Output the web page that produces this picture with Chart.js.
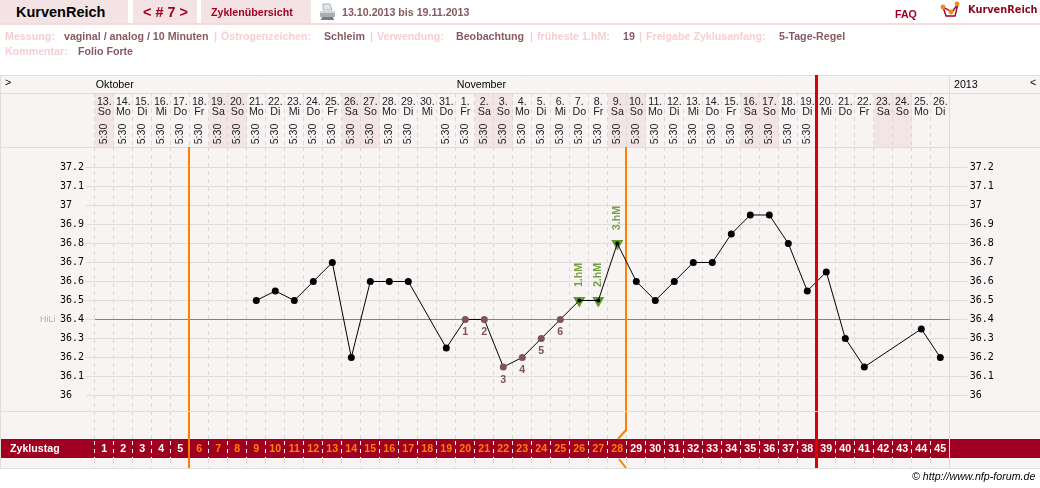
<!DOCTYPE html>
<html>
<head>
<meta charset="utf-8">
<title>KurvenReich</title>
<script src="https://cdn.jsdelivr.net/npm/chart.js@4/dist/chart.umd.min.js"></script>
<style>
body { margin: 0; background: #fff; font: bold 10.67px "Liberation Sans", Arial, sans-serif; overflow: hidden; }
#page { position: relative; width: 1040px; height: 488px; overflow: hidden; }
canvas { position: absolute; left: 0; top: 0; }
.abs { position: absolute; white-space: nowrap; line-height: 14px; }
.tab { position: absolute; top: 0; height: 23px; background: #f3e3e5; }
.lab { color: #f6cfd2; }
.val { color: #875a60; }
.red { color: #a00020; }
</style>
</head>
<body>
<div id="page">
  <canvas id="myChart" width="1040" height="488"></canvas>

  <div class="tab" style="left:0;width:128px"></div>
  <div class="tab" style="left:133px;width:64px"></div>
  <div class="tab" style="left:201px;width:110px"></div>
  <div class="abs" style="left:0;top:23px;width:1040px;height:2px;background:#f3dadd"></div>

  <div class="abs" style="left:16px;top:5px;font-size:14.5px;color:#000">KurvenReich</div>
  <div class="abs red" style="left:143px;top:5px;font-size:14.4px">&lt; # 7 &gt;</div>
  <div class="abs red" style="left:211px;top:5px">Zyklenübersicht</div>
  <svg class="abs" style="left:319px;top:3px" width="17" height="18" viewBox="0 0 17 18">
    <path d="M4 1h7l2 6H4z" fill="#dfe6ee" stroke="#9aa4ae" stroke-width="0.8"/>
    <path d="M1 8h15v6H1z" fill="#a9adb1"/>
    <path d="M3 14h11l1 3H2z" fill="#777b80"/>
    <path d="M1 8h15v2H1z" fill="#d3d6d9"/>
  </svg>
  <div class="abs val" style="left:342px;top:5px">13.10.2013 bis 19.11.2013</div>
  <div class="abs red" style="left:895px;top:7px">FAQ</div>
  <svg class="abs" style="left:940px;top:1px" width="20" height="18" viewBox="0 0 20 18">
    <path d="M3 6l3 9h9l3-12-6 8z" fill="#fff" stroke="#a00020" stroke-width="1.4"/>
    <circle cx="3" cy="6" r="2.4" fill="#f08a1c"/>
    <circle cx="11" cy="11" r="2.4" fill="#f08a1c"/>
    <circle cx="17" cy="3" r="2.4" fill="#f08a1c"/>
  </svg>
  <div class="abs" style="left:968px;top:3px;font:bold 9.8px 'DejaVu Sans';line-height:14px;color:#8b0a1a">KurvenReich</div>

  <div class="abs lab" style="left:5px;top:29px">Messung:</div>
  <div class="abs val" style="left:64px;top:29px">vaginal / analog / 10 Minuten</div>
  <div class="abs lab" style="left:214px;top:29px">|</div>
  <div class="abs lab" style="left:221px;top:29px">Östrogenzeichen:</div>
  <div class="abs val" style="left:324px;top:29px">Schleim</div>
  <div class="abs lab" style="left:370px;top:29px">|</div>
  <div class="abs lab" style="left:377px;top:29px">Verwendung:</div>
  <div class="abs val" style="left:456px;top:29px">Beobachtung</div>
  <div class="abs lab" style="left:530px;top:29px">|</div>
  <div class="abs lab" style="left:537px;top:29px">früheste 1.hM:</div>
  <div class="abs val" style="left:623px;top:29px">19</div>
  <div class="abs lab" style="left:639px;top:29px">|</div>
  <div class="abs lab" style="left:646px;top:29px">Freigabe Zyklusanfang:</div>
  <div class="abs val" style="left:779px;top:29px">5-Tage-Regel</div>
  <div class="abs lab" style="left:5px;top:44px">Kommentar:</div>
  <div class="abs val" style="left:78px;top:44px">Folio Forte</div>

  <div class="abs" style="left:912px;top:469px;font:italic 10.67px 'Liberation Sans';line-height:14px;color:#000">© http://www.nfp-forum.de</div>
</div>

<script>
const cycleDays = ["1","2","3","4","5","6","7","8","9","10","11","12","13","14","15","16","17","18","19","20","21","22","23","24","25","26","27","28","29","30","31","32","33","34","35","36","37","38","39","40","41","42","43","44","45"];
const dayNumbers = [13,14,15,16,17,18,19,20,21,22,23,24,25,26,27,28,29,30,31,1,2,3,4,5,6,7,8,9,10,11,12,13,14,15,16,17,18,19,20,21,22,23,24,25,26];
const weekdays = ["So","Mo","Di","Mi","Do","Fr","Sa","So","Mo","Di","Mi","Do","Fr","Sa","So","Mo","Di","Mi","Do","Fr","Sa","So","Mo","Di","Mi","Do","Fr","Sa","So","Mo","Di","Mi","Do","Fr","Sa","So","Mo","Di","Mi","Do","Fr","Sa","So","Mo","Di"];
const times = ["5:30","5:30","5:30","5:30","5:30","5:30","5:30","5:30","5:30","5:30","5:30","5:30","5:30","5:30","5:30","5:30","5:30","","5:30","5:30","5:30","5:30","5:30","5:30","5:30","5:30","5:30","5:30","5:30","5:30","5:30","5:30","5:30","5:30","5:30","5:30","5:30","5:30","","","","","","",""];
const temps = [null,null,null,null,null,null,null,null,36.5,36.55,36.5,36.6,36.7,36.2,36.6,36.6,36.6,null,36.25,36.4,36.4,36.15,36.2,36.3,36.4,36.5,36.5,36.8,36.6,36.5,36.6,36.7,36.7,36.85,36.95,36.95,36.8,36.55,36.65,36.3,36.15,null,null,36.35,36.2];
const highTemps = [null,null,null,null,null,null,null,null,null,null,null,null,null,null,null,null,null,null,null,null,null,null,null,null,null,36.5,36.5,36.8,null,null,null,null,null,null,null,null,null,null,null,null,null,null,null,null,null];

const yTicks = [36,36.1,36.2,36.3,36.4,36.5,36.6,36.7,36.8,36.9,37,37.1,37.2];
const hiLi = 36.4;

// index of the day in the arrays above
const lowDays = [19,20,21,22,23,24];
const lowLabels = ["1","2","3","4","5","6"];
const highDays = [25,26,27];
const highLabels = ["1.hM","2.hM","3.hM"];

const monthNames = ["Oktober","November"];
const monthStarts = [0,19];
const fertileStart = 5;
const fertileEnd = 28;
const cycleEnd = 38;

const lineGray = "#e0dddb";
const dashGray = "#dad7d5";
const bgPink = "#f9f4f4";
const weekendPink = "#f3e4e6";
const bandRed = "#a00020";
const orange = "#ff8000";
const green = "#5f9a2a";
const brown = "#7f5357";
const sans = '"Liberation Sans", Arial, sans-serif';

function colLeft(chart, i) {
    const x = chart.scales.x;
    return x.left + i * (x.width / cycleDays.length);
}

function vLine(ctx, color, width, points) {
    ctx.strokeStyle = color;
    ctx.lineWidth = width;
    ctx.beginPath();
    ctx.moveTo(points[0][0], points[0][1]);
    for (let i = 1; i < points.length; i++) {
        ctx.lineTo(points[i][0], points[i][1]);
    }
    ctx.stroke();
}

// frame, header rows and the weekend shading
const framePlugin = {
    id: "frame",
    beforeDraw(chart) {
        const ctx = chart.ctx;
        const colW = chart.scales.x.width / cycleDays.length;
        ctx.save();
        ctx.fillStyle = bgPink;
        ctx.fillRect(1, 75, 1039, 393);
        ctx.fillStyle = weekendPink;
        weekdays.forEach(function (d, i) {
            if (d == "Sa" || d == "So") {
                ctx.fillRect(Math.round(colLeft(chart, i)), 94, colW, 53);
            }
        });
        [75.5, 93.5, 147.5, 411.5, 468.5].forEach(function (y) {
            vLine(ctx, lineGray, 1, [[1, y], [1040, y]]);
        });
        vLine(ctx, lineGray, 1, [[0.5, 75], [0.5, 469]]);
        vLine(ctx, lineGray, 1, [[949.5, 75], [949.5, 469]]);
        ctx.restore();
    },
    beforeDatasetsDraw(chart) {
        const ctx = chart.ctx;
        const a = chart.chartArea;
        ctx.save();
        // Zyklustag band with its white dashes
        ctx.fillStyle = bandRed;
        ctx.fillRect(1, 439, 1039, 19);
        ctx.setLineDash([4, 4]);
        for (let i = 0; i < cycleDays.length; i++) {
            const px = Math.floor(colLeft(chart, i)) + 0.5;
            vLine(ctx, "#fff", 1, [[px, 441], [px, 458]]);
        }
        ctx.setLineDash([]);
        vLine(ctx, lineGray, 1, [[949.5, 439], [949.5, 458]]);

        // start and end of the fertile phase
        const x1 = Math.floor(colLeft(chart, fertileStart));
        const x2 = Math.floor(colLeft(chart, fertileEnd));
        vLine(ctx, orange, 2, [[x1, a.top], [x1, a.bottom]]);
        vLine(ctx, orange, 2, [[x2, a.top], [x2, 430], [x2 - 8, 439]]);
        vLine(ctx, orange, 2, [[x2 - 7, 459], [x2, 468]]);
        ctx.restore();
    },
    afterDatasetsDraw(chart) {
        const ctx = chart.ctx;
        const a = chart.chartArea;
        const y = chart.scales.y;
        const line = chart.getDatasetMeta(0).data;
        const end = Math.floor(colLeft(chart, cycleEnd)) + 0.5;
        ctx.save();
        vLine(ctx, "#dd0000", 3, [[end, 75], [end, a.bottom]]);
        vLine(ctx, lineGray, 1, [[1, 411.5], [1040, 411.5]]);

        ctx.textAlign = "center";
        ctx.textBaseline = "middle";
        ctx.fillStyle = brown;
        ctx.font = "bold 10.67px " + sans;
        lowDays.forEach(function (d, i) {
            ctx.fillText(lowLabels[i], line[d].x, line[d].y + 13);
        });

        ctx.fillStyle = "#74a044";
        highDays.forEach(function (d, i) {
            ctx.save();
            ctx.translate(line[d].x, line[d].y - 25.5);
            ctx.rotate(-Math.PI / 2);
            ctx.fillText(highLabels[i], 0, 0);
            ctx.restore();
        });

        // month row and the vertical times
        ctx.fillStyle = "#000";
        ctx.textAlign = "left";
        ctx.font = "10.67px " + sans;
        monthNames.forEach(function (m, i) {
            ctx.fillText(m, colLeft(chart, monthStarts[i]) + 1, 85);
        });
        ctx.fillText("2013", 954, 85);
        ctx.fillText(">", 5, 83);
        ctx.fillText("<", 1030, 83);
        ctx.fillStyle = "#222";
        times.forEach(function (t, i) {
            if (t == "") return;
            ctx.save();
            ctx.translate(line[i].x, 134);
            ctx.rotate(-Math.PI / 2);
            ctx.textAlign = "center";
            ctx.fillText(t, 0, 0);
            ctx.restore();
        });

        ctx.fillStyle = "#fff";
        ctx.font = "bold 10.67px " + sans;
        ctx.fillText("Zyklustag", 10, 449);

        ctx.fillStyle = "rgba(95,140,46,0.55)";
        ctx.font = "9px " + sans;
        ctx.fillText("HiLi", 40, y.getPixelForValue(hiLi));
        ctx.restore();
    }
};

const data = {
    labels: cycleDays,
    datasets: [
        {
            data: temps,
            order: 1,
            xAxisID: "x",
            yAxisID: "y",
            spanGaps: true,
            borderColor: "#000",
            borderWidth: 1,
            tension: 0,
            pointRadius: function (c) {
                return highDays.includes(c.dataIndex) ? 2 : 3.5;
            },
            pointBorderWidth: 0,
            pointBackgroundColor: function (c) {
                return lowDays.includes(c.dataIndex) ? brown : "#000";
            }
        },
        {
            data: highTemps,
            order: 2,
            xAxisID: "x",
            yAxisID: "y",
            showLine: false,
            pointStyle: "triangle",
            rotation: 180,
            pointRadius: 7,
            pointBorderWidth: 0,
            pointBackgroundColor: green
        }
    ]
};

const yAxisBase = {
    type: "linear",
    min: 35.618,
    max: 37.308,
    afterBuildTicks: function (s) {
        s.ticks = yTicks.map(function (v) { return { value: v }; });
    },
    border: { display: false }
};
const yTickFont = { family: '"DejaVu Sans Mono", monospace', size: 10 };

const config = {
    type: "line",
    data: data,
    plugins: [framePlugin],
    options: {
        responsive: false,
        animation: false,
        events: [],
        layout: { padding: { left: 60, right: 40.2, top: 75, bottom: 20 } },
        plugins: {
            legend: { display: false },
            tooltip: { enabled: false },
            title: { display: false }
        },
        scales: {
            x: {
                type: "category",
                position: "top",
                offset: true,
                labels: dayNumbers.map(function (d, i) { return [d + ".", weekdays[i]]; }),
                afterFit: function (s) { s.height = 72; },
                border: { display: false, dash: [4, 4] },
                grid: { offset: true, color: dashGray, tickColor: dashGray, tickLength: 54, tickBorderDash: [4, 4] },
                ticks: {
                    autoSkip: false,
                    maxRotation: 0,
                    minRotation: 0,
                    padding: -24,
                    color: "#222",
                    font: { family: '"Liberation Sans Narrow", ' + sans, size: 10.67, lineHeight: 0.95 }
                }
            },
            x2: {
                type: "category",
                axis: "x",
                position: "bottom",
                offset: true,
                labels: cycleDays,
                afterFit: function (s) { s.height = 0; },
                border: { display: false },
                grid: { display: false, drawTicks: false },
                ticks: {
                    z: 1,
                    mirror: true,
                    autoSkip: false,
                    maxRotation: 0,
                    minRotation: 0,
                    padding: 12.6,
                    font: { family: sans, size: 10.67, weight: "bold" },
                    color: function (c) {
                        const i = c.index;
                        return i >= fertileStart && i < fertileEnd ? orange : "#fff";
                    }
                }
            },
            y: Object.assign({}, yAxisBase, {
                position: "left",
                afterFit: function (s) { s.width = 34.8; },
                grid: {
                    tickLength: 9,
                    tickColor: lineGray,
                    color: function (c) { return c.tick && c.tick.value == hiLi ? "#6f9a3f" : lineGray; }
                },
                ticks: {
                    crossAlign: "far",
                    color: "#000",
                    font: yTickFont,
                    callback: function (v) { return String(v); }
                }
            }),
            y2: Object.assign({}, yAxisBase, {
                position: "right",
                afterFit: function (s) { s.width = 50; },
                grid: { drawOnChartArea: false, tickLength: 18, tickColor: lineGray },
                ticks: {
                    padding: 2,
                    color: "#000",
                    font: yTickFont,
                    callback: function (v) { return String(v); }
                }
            })
        }
    }
};

window.mychart = new Chart(document.getElementById("myChart"), config);
</script>
</body>
</html>
